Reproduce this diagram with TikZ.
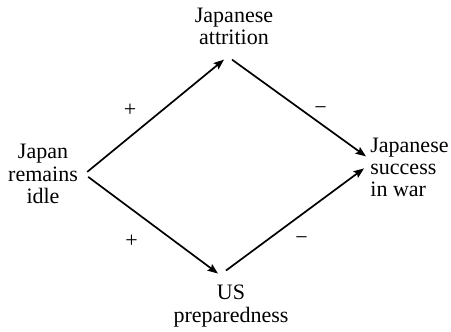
\documentclass[tikz,border=0pt]{standalone}
\usepackage{fontspec}
\setmainfont{Liberation Serif}
\usetikzlibrary{arrows.meta}
\begin{document}
\begin{tikzpicture}[x=0.5pt,y=-0.5pt,
  lbl/.style={font=\fontsize{11}{11.25}\selectfont, inner sep=0pt},
  sign/.style={font=\fontsize{11}{11.25}\selectfont, inner sep=0pt, anchor=base},
  link/.style={line width=0.85pt, -{Stealth[length=5.2pt,width=4pt,inset=0.9pt]}}]
\useasboundingbox (0,0) rectangle (451,332);
\node[lbl, align=center, anchor=base] (attr) at (234,45) {Japanese\\attrition};
\node[lbl, align=center, anchor=base] (idle) at (43,203.5) {Japan\\remains\\idle};
\node[lbl, align=left, anchor=base west] (succ) at (370,197) {Japanese\\success\\in war};
\node[lbl, align=center, anchor=base] (us) at (231,322) {US\\preparedness};
\draw[link] ([shift={(9,-2)}]idle.east) -- ([shift={(-10,14)}]attr.south);
\draw[link] ([shift={(-2,14)}]attr.south) -- ([shift={(-4,-11)}]succ.west);
\draw[link] ([shift={(10,3)}]idle.east) -- ([shift={(-13,-11)}]us.north);
\draw[link] ([shift={(-5,-14)}]us.north) -- ([shift={(-6,1)}]succ.west);
\node[sign] (p1) at (130,116.8) {+};
\node[sign] (m1) at (320.7,114.5) {−};
\node[sign] (p2) at (131.7,247) {+};
\node[sign] (m2) at (301.7,244.7) {−};
\end{tikzpicture}
\end{document}
